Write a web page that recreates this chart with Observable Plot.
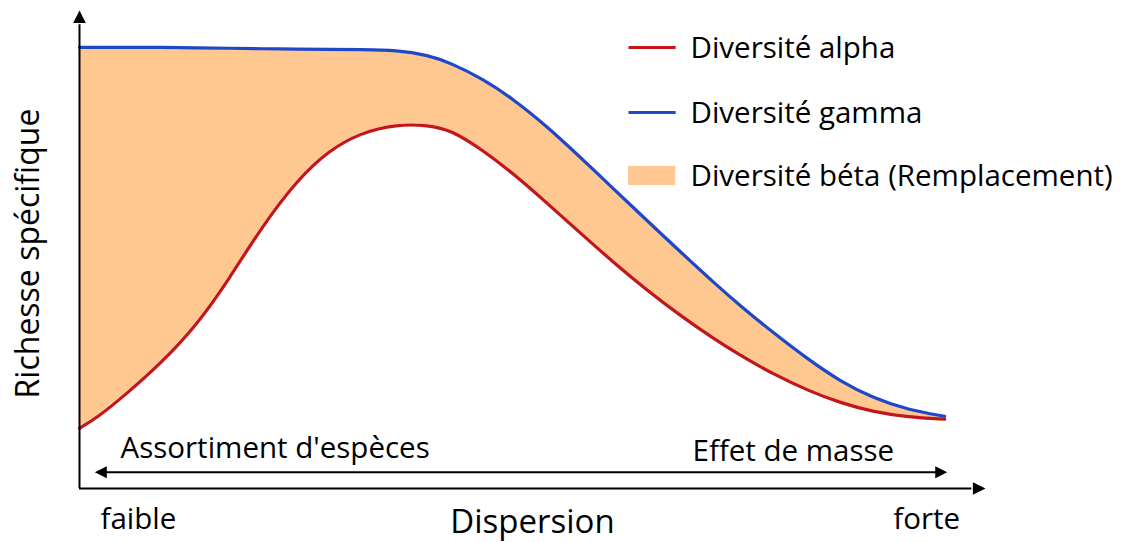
<!DOCTYPE html>
<html>
<head>
<meta charset="utf-8">
<script src="https://cdn.jsdelivr.net/npm/d3@7"></script>
<script src="https://cdn.jsdelivr.net/npm/@observablehq/plot@0.6"></script>
<style>
  html, body { margin: 0; padding: 0; background: #fff; }
  svg { overflow: visible; }
</style>
</head>
<body>
<div id="chart"></div>
<script>
// Dispersion (x, 0-100) and species richness (y, 0-100)
const dispersion = [0, 2, 5, 9, 13, 16.5, 20, 24, 27.5, 31, 35, 38.5, 41, 44.5, 48, 51.5, 55, 59, 62.5, 66.5, 70, 73, 76.5, 80.5, 84, 87.5, 91.5, 95.5];
const gamma = [92.3, 92.3, 92.3, 92.3, 92.2, 92.1, 92.0, 91.9, 91.9, 91.8, 91.7, 90.65, 89.0, 85.7, 81.3, 75.9, 69.8, 62.6, 56.3, 49.2, 43.1, 38.1, 32.7, 26.9, 22.4, 19.0, 16.4, 15.1];
const alpha = [12.6, 14.9, 19.5, 26.2, 34.3, 43.8, 54.4, 64.5, 70.7, 74.4, 76.2, 76.0, 75.0, 70.8, 65.7, 59.9, 53.9, 47.2, 41.7, 35.9, 31.35, 27.75, 24.0, 20.4, 17.9, 16.1, 14.9, 14.5];

const legendLabels = ["Diversité alpha", "Diversité gamma", "Diversité béta (Remplacement)"];
const legendColors = ["#C3161C", "#1E48C8", "#FFC891"];
const yLabel = "Richesse spécifique";
const xLabel = "Dispersion";
const xEnds = ["faible", "forte"];
const regimes = ["Assortiment d'espèces", "Effet de masse"];

const data = dispersion.map((x, i) => ({x, gamma: gamma[i], alpha: alpha[i]}));

const triRight = {draw(ctx, size) { const r = Math.sqrt(size / Math.PI); ctx.moveTo(0, 0); ctx.lineTo(-2 * r, -r); ctx.lineTo(-2 * r, r); ctx.closePath(); }};
const triLeft = {draw(ctx, size) { const r = Math.sqrt(size / Math.PI); ctx.moveTo(0, 0); ctx.lineTo(2 * r, -r); ctx.lineTo(2 * r, r); ctx.closePath(); }};
const triUp = {draw(ctx, size) { const r = Math.sqrt(size / Math.PI); ctx.moveTo(0, 0); ctx.lineTo(-r, 2 * r); ctx.lineTo(r, 2 * r); ctx.closePath(); }};

const FONT = "'Open Sans', Lato, sans-serif";
const FS = 29.5, FS_X = 33, FS_Y = 32;
const arrowY = 3.41, arrowX1 = 1.69, arrowX2 = 95.78;

const legendRows = legendLabels.map((label, i) => ({label, color: legendColors[i], y: [92.26, 78.66, 65.4][i]}));

const chart = Plot.plot({
  width: 1128,
  height: 542,
  marginLeft: 79,
  marginRight: 143,
  marginTop: 10,
  marginBottom: 54,
  style: {fontFamily: FONT, background: "white", overflow: "visible"},
  x: {domain: [0, 100], axis: null},
  y: {domain: [0, 100], axis: null},
  marks: [
    Plot.areaY(data, {x: "x", y1: "alpha", y2: "gamma", curve: "basis", fill: legendColors[2], stroke: "white", strokeWidth: 2}),
    Plot.lineY(data, {x: "x", y: "gamma", curve: "basis", stroke: legendColors[1], strokeWidth: 3.2}),
    Plot.lineY(data, {x: "x", y: "alpha", curve: "basis", stroke: legendColors[0], strokeWidth: 3.2}),
    // axes
    Plot.ruleX([0], {y1: 0, y2: 97, stroke: "black", strokeWidth: 2}),
    Plot.ruleY([0], {x1: 0, x2: 98.5, stroke: "black", strokeWidth: 2}),
    Plot.dot([{x: 0, y: 100}], {x: "x", y: "y", symbol: triUp, r: 6.3, fill: "black", stroke: "none"}),
    Plot.dot([{x: 100, y: 0}], {x: "x", y: "y", symbol: triRight, r: 6.3, fill: "black", stroke: "none"}),
    // double arrow
    Plot.ruleY([arrowY], {x1: arrowX1 + 1, x2: arrowX2 - 1, stroke: "black", strokeWidth: 2}),
    Plot.dot([{x: arrowX1, y: arrowY}], {x: "x", y: "y", symbol: triLeft, r: 6, fill: "black", stroke: "none"}),
    Plot.dot([{x: arrowX2, y: arrowY}], {x: "x", y: "y", symbol: triRight, r: 6, fill: "black", stroke: "none"}),
    // regime labels
    Plot.text([regimes[0]], {x: 4.53, y: 8.37, text: d => d, textAnchor: "start", lineAnchor: "middle", fontSize: FS, fill: "black"}),
    Plot.text([regimes[1]], {x: 67.66, y: 7.8, text: d => d, textAnchor: "start", lineAnchor: "middle", fontSize: FS, fill: "black"}),
    // x axis labels
    Plot.text([xEnds[0]], {x: 2.32, y: -6.42, text: d => d, textAnchor: "start", lineAnchor: "middle", fontSize: FS, fill: "black"}),
    Plot.text([xEnds[1]], {x: 97.2, y: -6.42, text: d => d, textAnchor: "end", lineAnchor: "middle", fontSize: FS, fill: "black"}),
    Plot.text([xLabel], {frameAnchor: "bottom", dy: 34, text: d => d, textAnchor: "middle", lineAnchor: "middle", fontSize: FS_X, fill: "black"}),
    Plot.text([yLabel], {frameAnchor: "left", dx: -51, dy: 4, rotate: -90, text: d => d, textAnchor: "middle", lineAnchor: "middle", fontSize: FS_Y, fill: "black"}),
    // legend
    Plot.link(legendRows.slice(0, 2), {x1: 60.6, x2: 65.8, y1: "y", y2: "y", stroke: "color", strokeWidth: 3}),
    Plot.rect(legendRows.slice(2), {x1: 60.6, x2: 65.8, y1: d => d.y - 2, y2: d => d.y + 2, fill: "color"}),
    Plot.text(legendRows, {x: 67.44, y: d => d.y - 0.2, text: "label", textAnchor: "start", lineAnchor: "middle", fontSize: FS, fill: "black"})
  ]
});
document.getElementById("chart").append(chart);
</script>
</body>
</html>
